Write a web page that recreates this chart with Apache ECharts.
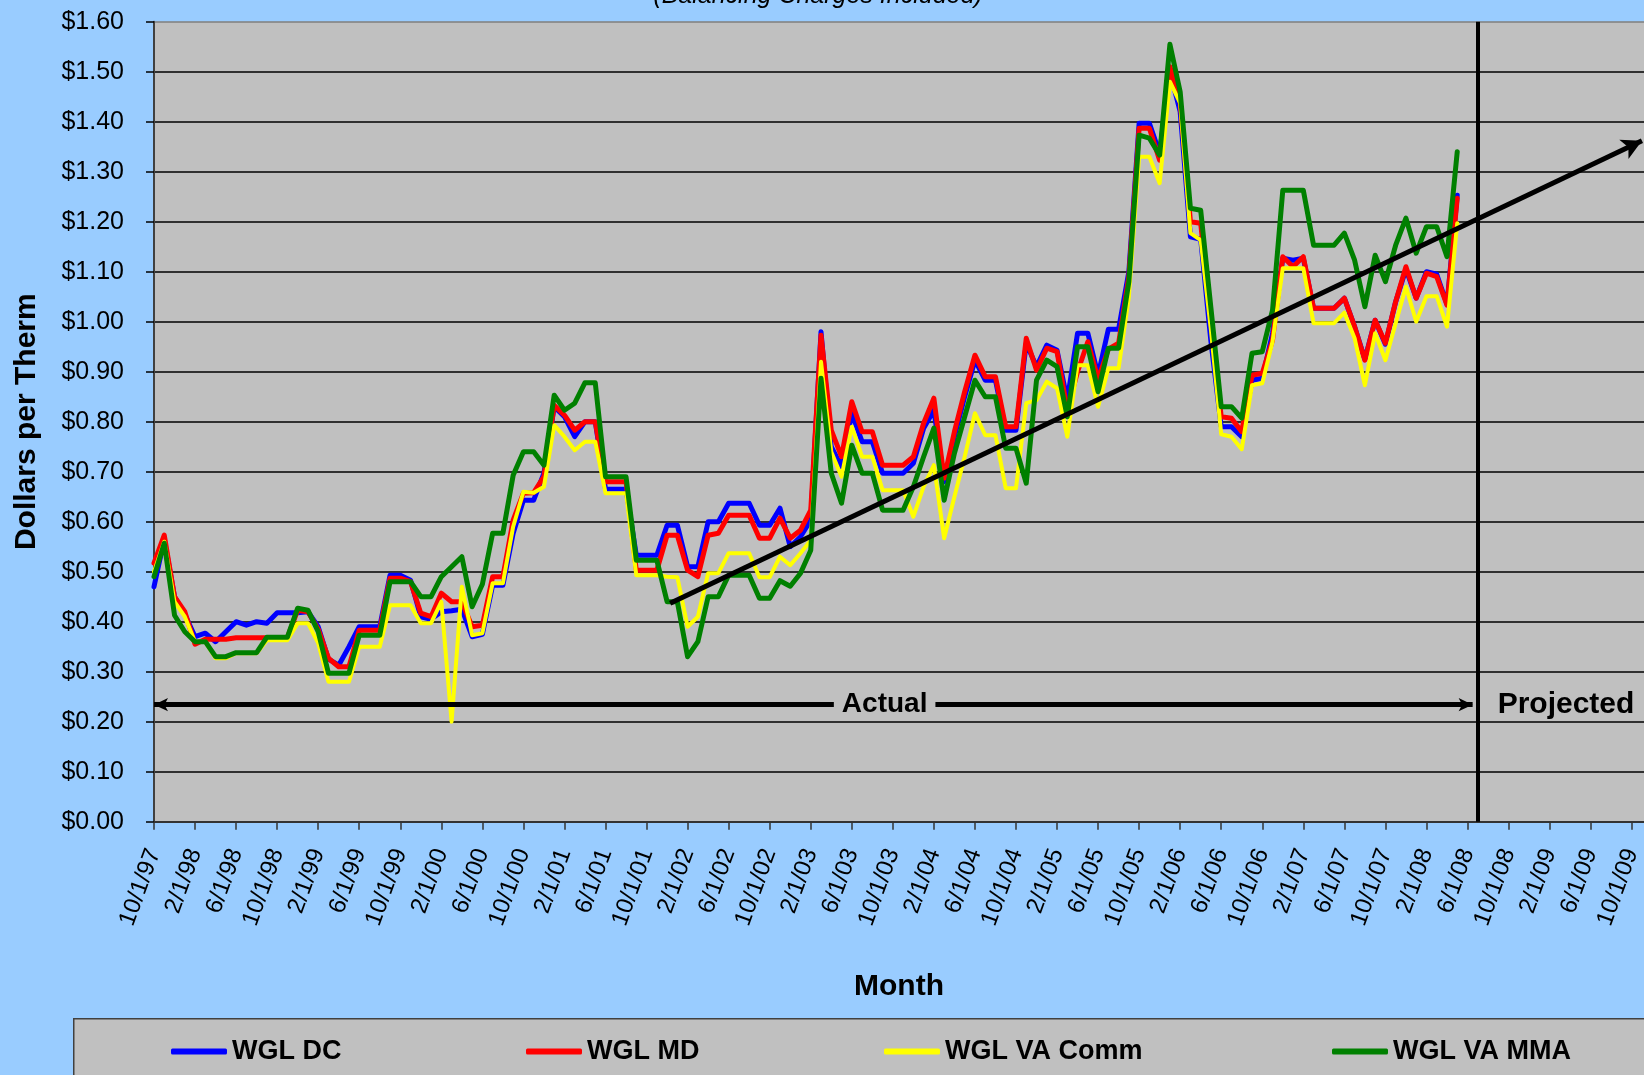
<!DOCTYPE html>
<html>
<head>
<meta charset="utf-8">
<title>WGL gas cost per therm</title>
<script src="https://cdn.jsdelivr.net/npm/echarts@6/dist/echarts.min.js"></script>
<style>
  html, body { margin: 0; padding: 0; background: #99ccff; overflow: hidden; }
  #chart { width: 1644px; height: 1075px; }
</style>
</head>
<body>
<div id="chart"></div>
<script>
// x position = months since 10/1/97 (index 0), one point per month up to 5/1/08
const tickLabels = [
  '10/1/97', '2/1/98', '6/1/98', '10/1/98', '2/1/99', '6/1/99', '10/1/99', '2/1/00', '6/1/00',
  '10/1/00', '2/1/01', '6/1/01', '10/1/01', '2/1/02', '6/1/02', '10/1/02', '2/1/03', '6/1/03',
  '10/1/03', '2/1/04', '6/1/04', '10/1/04', '2/1/05', '6/1/05', '10/1/05', '2/1/06', '6/1/06',
  '10/1/06', '2/1/07', '6/1/07', '10/1/07', '2/1/08', '6/1/08', '10/1/08', '2/1/09', '6/1/09', '10/1/09'
];

const seriesNames = ['WGL DC', 'WGL MD', 'WGL VA Comm', 'WGL VA MMA'];
const seriesColors = ['#0000ff', '#ff0000', '#ffff00', '#008000'];

const wglDC = [
  0.47, 0.565, 0.45, 0.415, 0.37, 0.377, 0.36, 0.38, 0.40, 0.393, 0.40, 0.397,
  0.418, 0.418, 0.418, 0.42, 0.39, 0.325, 0.313, 0.35, 0.39, 0.39, 0.39, 0.493,
  0.493, 0.483, 0.41, 0.405, 0.42, 0.422, 0.425, 0.37, 0.375, 0.473, 0.473, 0.577,
  0.643, 0.643, 0.697, 0.83, 0.81, 0.77, 0.80, 0.80, 0.665, 0.665, 0.665, 0.533,
  0.533, 0.533, 0.593, 0.593, 0.51, 0.51, 0.60, 0.60, 0.637, 0.637, 0.637, 0.593,
  0.593, 0.627, 0.55, 0.57, 0.603, 0.98, 0.75, 0.71, 0.817, 0.76, 0.76, 0.697,
  0.697, 0.697, 0.717, 0.787, 0.823, 0.68, 0.77, 0.85, 0.923, 0.883, 0.883, 0.783,
  0.783, 0.957, 0.91, 0.953, 0.943, 0.843, 0.977, 0.977, 0.893, 0.985, 0.985, 1.10,
  1.397, 1.397, 1.337, 1.50, 1.42, 1.17, 1.165, 0.96, 0.79, 0.79, 0.77, 0.883,
  0.887, 0.977, 1.127, 1.123, 1.127, 1.027, 1.027, 1.027, 1.047, 0.99, 0.925, 1.003,
  0.955, 1.04, 1.105, 1.047, 1.10, 1.095, 1.035, 1.253
];
const wglMD = [
  0.517, 0.573, 0.45, 0.42, 0.355, 0.365, 0.365, 0.365, 0.368, 0.368, 0.368, 0.368,
  0.368, 0.368, 0.423, 0.42, 0.385, 0.327, 0.31, 0.31, 0.383, 0.383, 0.383, 0.487,
  0.487, 0.48, 0.417, 0.41, 0.457, 0.44, 0.44, 0.39, 0.393, 0.49, 0.49, 0.603,
  0.657, 0.658, 0.69, 0.833, 0.813, 0.783, 0.80, 0.80, 0.68, 0.68, 0.68, 0.503,
  0.503, 0.503, 0.573, 0.573, 0.503, 0.49, 0.573, 0.577, 0.613, 0.613, 0.613, 0.567,
  0.567, 0.607, 0.567, 0.583, 0.623, 0.973, 0.783, 0.73, 0.84, 0.78, 0.78, 0.713,
  0.713, 0.713, 0.73, 0.797, 0.847, 0.687, 0.78, 0.86, 0.933, 0.89, 0.89, 0.79,
  0.79, 0.967, 0.903, 0.947, 0.94, 0.823, 0.90, 0.96, 0.885, 0.945, 0.957, 1.09,
  1.387, 1.387, 1.323, 1.51, 1.44, 1.20, 1.197, 1.0, 0.81, 0.807, 0.78, 0.893,
  0.897, 0.963, 1.13, 1.11, 1.13, 1.027, 1.027, 1.027, 1.047, 0.99, 0.923, 1.003,
  0.957, 1.04, 1.11, 1.047, 1.097, 1.09, 1.033, 1.247
];
const wglVAComm = [
  0.50, 0.56, 0.44, 0.41, 0.36, 0.36, 0.327, 0.327, 0.337, 0.337, 0.337, 0.363,
  0.363, 0.363, 0.397, 0.397, 0.357, 0.28, 0.28, 0.28, 0.35, 0.35, 0.35, 0.433,
  0.433, 0.433, 0.397, 0.397, 0.44, 0.20, 0.47, 0.373, 0.377, 0.477, 0.477, 0.59,
  0.66, 0.658, 0.67, 0.793, 0.77, 0.743, 0.76, 0.76, 0.657, 0.657, 0.657, 0.493,
  0.493, 0.493, 0.49, 0.489, 0.39, 0.41, 0.497, 0.497, 0.537, 0.537, 0.537, 0.489,
  0.489, 0.53, 0.513, 0.537, 0.563, 0.92, 0.74, 0.69, 0.79, 0.73, 0.73, 0.663,
  0.663, 0.663, 0.61, 0.67, 0.713, 0.567, 0.65, 0.73, 0.817, 0.773, 0.773, 0.667,
  0.667, 0.837, 0.843, 0.88, 0.867, 0.77, 0.913, 0.913, 0.83, 0.907, 0.907, 1.05,
  1.33, 1.33, 1.277, 1.48, 1.437, 1.177, 1.163, 0.983, 0.775, 0.77, 0.745, 0.873,
  0.877, 0.96, 1.107, 1.107, 1.107, 0.997, 0.997, 0.997, 1.018, 0.967, 0.873, 0.977,
  0.923, 0.997, 1.07, 1.0, 1.051, 1.051, 0.99, 1.197
];
const wglVAMMA = [
  0.49, 0.557, 0.413, 0.38, 0.36, 0.36, 0.33, 0.33, 0.338, 0.338, 0.338, 0.369,
  0.369, 0.369, 0.427, 0.423, 0.38, 0.297, 0.297, 0.297, 0.373, 0.373, 0.373, 0.48,
  0.48, 0.48, 0.45, 0.45, 0.49, 0.51, 0.53, 0.43, 0.475, 0.577, 0.577, 0.693,
  0.74, 0.74, 0.713, 0.853, 0.823, 0.837, 0.878, 0.878, 0.69, 0.69, 0.69, 0.523,
  0.523, 0.523, 0.44, 0.44, 0.33, 0.36, 0.45, 0.45, 0.493, 0.493, 0.493, 0.447,
  0.447, 0.482, 0.471, 0.497, 0.543, 0.887, 0.697, 0.637, 0.753, 0.697, 0.697, 0.623,
  0.623, 0.623, 0.67, 0.73, 0.787, 0.643, 0.737, 0.81, 0.883, 0.85, 0.85, 0.747,
  0.747, 0.677, 0.883, 0.923, 0.91, 0.81, 0.95, 0.95, 0.86, 0.947, 0.947, 1.08,
  1.373, 1.367, 1.333, 1.555, 1.46, 1.227, 1.223, 1.027, 0.83, 0.83, 0.807, 0.937,
  0.94, 1.023, 1.263, 1.263, 1.263, 1.153, 1.153, 1.153, 1.177, 1.123, 1.03, 1.133,
  1.08, 1.153, 1.207, 1.137, 1.19, 1.19, 1.13, 1.34
];

// annotations (month index, $/therm)
const trendStart = [50.3, 0.437];
const trendEnd = [145.0, 1.362];
const projectionMonth = 129;      // 7/1/08
const actualArrow = [0, 128.5];   // months spanned by the "Actual" arrow
const actualLevel = 0.234;
const actualLabelAt = 71.2;
const projectedLabelAt = 137.6;

const font = 'Arial, "Liberation Sans", sans-serif';
const chart = echarts.init(document.getElementById('chart'));

const priceSeries = [wglDC, wglMD, wglVAComm, wglVAMMA].map((vals, k) => ({
  name: seriesNames[k],
  type: 'line',
  data: vals.map((v, i) => [i, v]),
  symbol: 'none',
  color: seriesColors[k],
  lineStyle: { width: k === 2 ? 4 : 5, color: seriesColors[k], cap: 'round', join: 'round' },
  z: 2
}));

const legendLeft = [166, 521, 879, 1327];

chart.setOption({
  animation: false,
  backgroundColor: '#99ccff',
  textStyle: { fontFamily: font },
  grid: {
    left: 154, right: 0, top: 21.7, bottom: 253.3,
    show: true, backgroundColor: '#c0c0c0', borderWidth: 0
  },
  xAxis: {
    type: 'value',
    min: 0, max: 145.2, interval: 4,
    name: 'Month', nameLocation: 'middle', nameGap: 150,
    nameTextStyle: { fontSize: 30, fontWeight: 'bold', color: '#000', fontFamily: font },
    axisLine: { show: true, lineStyle: { color: '#333', width: 2 } },
    axisTick: { show: true, length: 8, lineStyle: { color: '#333', width: 1.5 } },
    splitLine: { show: false },
    axisLabel: {
      rotate: 70, margin: 28, fontSize: 24, color: '#000', fontFamily: font,
      showMaxLabel: false,
      formatter: v => (v % 4 === 0 && tickLabels[v / 4]) ? tickLabels[v / 4] : ''
    }
  },
  yAxis: {
    type: 'value',
    min: 0, max: 1.6, interval: 0.1,
    name: 'Dollars per Therm', nameLocation: 'middle', nameGap: 112,
    nameTextStyle: { fontSize: 30, fontWeight: 'bold', color: '#000', fontFamily: font },
    axisLine: { show: true, lineStyle: { color: '#404040', width: 2 } },
    axisTick: { show: true, length: 8, lineStyle: { color: '#000', width: 1.5 } },
    axisLabel: {
      margin: 30, fontSize: 25, color: '#000', fontFamily: font,
      formatter: v => '$' + v.toFixed(2)
    },
    splitLine: {
      show: true,
      lineStyle: { color: Array(16).fill('#000').concat(['#7f7f7f']), width: 1.5 }
    }
  },
  legend: seriesNames.map((name, k) => ({
    data: [name],
    left: legendLeft[k], top: 1033,
    icon: 'roundRect', itemWidth: 56, itemHeight: 6,
    selectedMode: false,
    textStyle: { fontSize: 27, fontWeight: 'bold', color: '#000', fontFamily: font }
  })),
  graphic: [
    {
      type: 'rect', left: 73, top: 1018, z: 1,
      shape: { width: 1700, height: 100 },
      style: { fill: '#c0c0c0', stroke: '#404040', lineWidth: 1.5 }
    },
    {
      type: 'text', x: 818, y: 9, z: 1,
      style: {
        text: '(Balancing Charges Included)', textAlign: 'center', textVerticalAlign: 'bottom',
        fontSize: 25, fontStyle: 'italic', fontFamily: font, fill: '#000'
      }
    }
  ],
  series: priceSeries.concat([{
    name: 'annotations',
    type: 'line',
    data: [],
    z: 5,
    silent: true,
    markLine: {
      silent: true,
      animation: false,
      label: { show: false },
      data: [
        [
          { coord: trendStart, symbol: 'none' },
          { coord: trendEnd, symbol: 'arrow', symbolSize: [16, 20] }
        ],
        [
          { coord: [actualArrow[0], actualLevel], symbol: 'arrow', symbolSize: [10, 14] },
          { coord: [actualArrow[1], actualLevel], symbol: 'arrow', symbolSize: [10, 14] }
        ],
        [
          { coord: [projectionMonth, 0], symbol: 'none' },
          { coord: [projectionMonth, 1.6], symbol: 'none', lineStyle: { width: 4, color: '#000', type: 'solid' } }
        ]
      ],
      lineStyle: { color: '#000', type: 'solid', width: 5 }
    },
    markPoint: {
      silent: true,
      symbol: 'rect', symbolSize: 1,
      itemStyle: { color: 'rgba(0,0,0,0)' },
      data: [
        {
          coord: [actualLabelAt, actualLevel],
          label: {
            show: true, position: 'inside', formatter: 'Actual',
            fontSize: 28, fontWeight: 'bold', color: '#000', fontFamily: font,
            backgroundColor: '#c0c0c0', padding: [2, 8]
          }
        },
        {
          coord: [projectedLabelAt, actualLevel],
          label: {
            show: true, position: 'inside', formatter: 'Projected',
            fontSize: 30, fontWeight: 'bold', color: '#000', fontFamily: font
          }
        }
      ]
    }
  }])
});
</script>
</body>
</html>
